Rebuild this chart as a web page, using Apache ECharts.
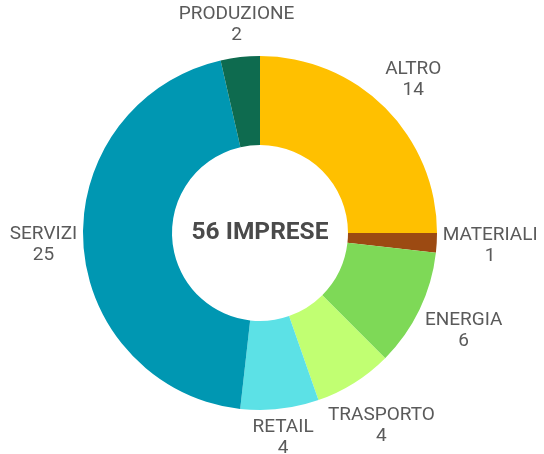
<!DOCTYPE html>
<html>
<head>
<meta charset="utf-8">
<script src="https://cdn.jsdelivr.net/npm/echarts@6/dist/echarts.min.js"></script>
<style>
  html, body { margin: 0; padding: 0; background: #fff; }
  #main { width: 544px; height: 454px; }
</style>
</head>
<body>
<div id="main"></div>
<script>
var names = ['ALTRO', 'MATERIALI', 'ENERGIA', 'TRASPORTO', 'RETAIL', 'SERVIZI', 'PRODUZIONE'];
var values = [14, 1, 6, 4, 4, 25, 2];
var colors = ['#FFC000', '#9C4A12', '#7ED957', '#C1FF72', '#5CE1E6', '#0097B2', '#0E6B4F'];
var centerText = '56 IMPRESE';

var cx = 260, cy = 233;
var total = values.reduce(function (a, b) { return a + b; }, 0);

var myChart = echarts.init(document.getElementById('main'));

var data = [];
for (var i = 0; i < names.length; i++) {
    data.push({name: names[i], value: values[i], itemStyle: {color: colors[i]}});
}

option = {
    animation: false,
    graphic: [{
        type: 'text',
        x: cx,
        y: cy,
        style: {
            text: centerText,
            fontFamily: 'Roboto',
            fontWeight: 'bold',
            fontSize: 24.5,
            fill: '#4a4a4a',
            textAlign: 'center',
            textVerticalAlign: 'middle'
        }
    }],
    series: [{
        type: 'pie',
        center: [cx, cy],
        radius: [88, 177],
        startAngle: 90,
        clockwise: true,
        avoidLabelOverlap: false,
        label: {
            show: true,
            position: 'outside',
            formatter: '{b}\n{c}',
            fontFamily: 'Roboto',
            fontSize: 19,
            lineHeight: 21,
            color: '#5a5a5a',
            align: 'center'
        },
        labelLine: {show: false},
        // label centre sits on the slice's middle ray, pushed out by half the box
        labelLayout: function (params) {
            var idx = params.dataIndex;
            var before = 0;
            for (var k = 0; k < idx; k++) before += values[k];
            var ang = (before + values[idx] / 2) / total * Math.PI * 2;
            var ux = Math.sin(ang), uy = -Math.cos(ang);
            var w = params.labelRect.width, h = params.labelRect.height;
            var d = 182 + Math.abs(ux) * w / 2 + Math.abs(uy) * h / 2;
            return {
                x: cx + d * ux,
                y: cy + d * uy,
                align: 'center',
                verticalAlign: 'middle'
            };
        },
        data: data
    }]
};

myChart.setOption(option);
</script>
</body>
</html>
